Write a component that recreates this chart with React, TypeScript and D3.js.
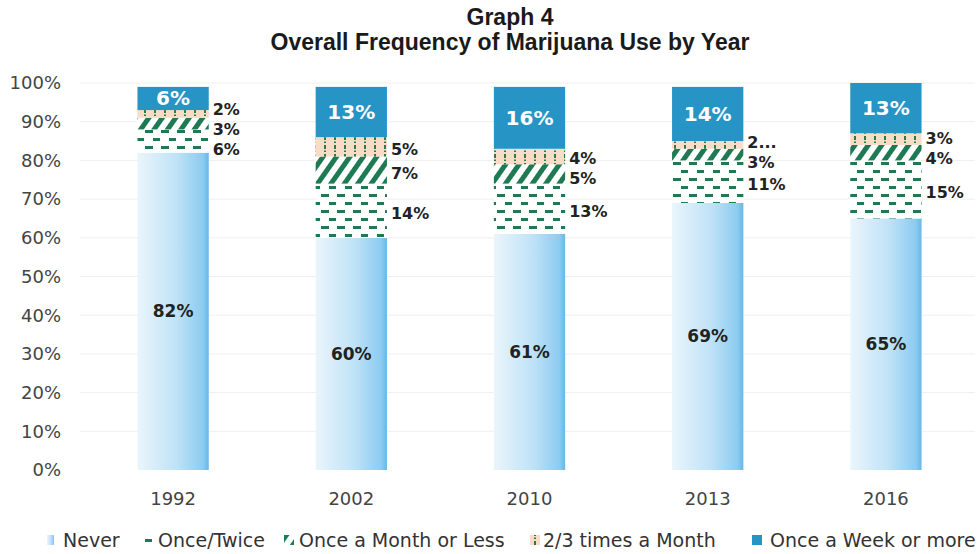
import React from 'react';
import * as d3 from 'd3';

const years = ['1992', '2002', '2010', '2013', '2016'];
const never = [82, 60, 61, 69, 65];
const onceTwice = [6, 14, 13, 11, 15];
const onceMonth = [3, 7, 5, 3, 4];
const twoThree = [2, 5, 4, 2, 3];
const weekly = [6, 13, 16, 14, 13];
const twoThreeLabels = ['2%', '5%', '4%', '2...', '3%'];
const seriesNames = ['Never', 'Once/Twice', 'Once a Month or Less', '2/3 times a Month', 'Once a Week or more'];
const yTicks = [0, 10, 20, 30, 40, 50, 60, 70, 80, 90, 100];

const W = 979;
const H = 554;
const keys = ['never', 'onceTwice', 'onceMonth', 'twoThree', 'weekly'];
const fills = ['url(#gNever)', 'url(#pOnceTwice)', 'url(#pMonth)', 'url(#pTwoThree)', '#2794c6'];
const GREEN = '#1e7a52';

const FONT = '"DejaVu Sans", Verdana, sans-serif';

export default function App() {
  const rows = years.map((y, i) => ({
    year: y,
    never: never[i],
    onceTwice: onceTwice[i],
    onceMonth: onceMonth[i],
    twoThree: twoThree[i],
    weekly: weekly[i],
  }));
  const stacked = d3.stack<any>().keys(keys)(rows);

  const x = d3.scaleBand<string>().domain(years).range([84, 975]).paddingInner(0.6).paddingOuter(0.3);
  const y = d3.scaleLinear().domain([0, 100]).range([470, 83]);
  const bw = x.bandwidth();

  // outside labels for middle series with simple collision relaxation
  const outside: { x: number; y: number; text: string }[] = [];
  years.forEach((yr, i) => {
    const items = [3, 2, 1].map((si) => {
      const d = stacked[si][i];
      const text = si === 3 ? twoThreeLabels[i] : `${rows[i][keys[si]]}%`;
      return { y: y((d[0] + d[1]) / 2), text };
    });
    for (let it = 0; it < 50; it++) {
      for (let k = 0; k < items.length - 1; k++) {
        const gap = items[k + 1].y - items[k].y;
        if (gap < 20) {
          const push = (20 - gap) / 2;
          items[k].y -= push;
          items[k + 1].y += push;
        }
      }
    }
    items.forEach((it) => outside.push({ x: (x(yr) as number) + bw + 4, y: it.y + 3, text: it.text }));
  });

  const legendSwatchX = [45, 143, 284, 530, 752];
  const legendTextX = [63, 158, 299, 543, 770];

  return (
    <svg width={W} height={H} style={{ position: 'fixed', left: 0, top: 0, background: '#fff' }}>
      <defs>
        <linearGradient id="gNever" x1="0" x2="1" y1="0" y2="0">
          <stop offset="0%" stopColor="#eaf5fc" />
          <stop offset="55%" stopColor="#bfe2f7" />
          <stop offset="92%" stopColor="#8ccbf0" />
          <stop offset="100%" stopColor="#66b7e7" />
        </linearGradient>
        <pattern id="pOnceTwice" patternUnits="userSpaceOnUse" width="16" height="16">
          <rect width="16" height="16" fill="#fff" />
          <rect x="1" y="2" width="8" height="3" fill={GREEN} />
          <rect x="9" y="10" width="8" height="3" fill={GREEN} />
        </pattern>
        <pattern id="pMonth" patternUnits="userSpaceOnUse" width="11" height="11" patternTransform="rotate(35)">
          <rect width="11" height="11" fill="#fff" />
          <rect x="0" y="0" width="5" height="11" fill={GREEN} />
        </pattern>
        <pattern id="pTwoThree" patternUnits="userSpaceOnUse" width="10" height="9">
          <rect width="10" height="9" fill="#f9dcc6" />
          <rect x="4" y="1" width="2" height="4" fill="#2a7a4a" />
          <rect x="4" y="6.5" width="2" height="1.5" fill="#2a7a4a" />
        </pattern>
      </defs>

      {/* title */}
      <text x={510} y={25} textAnchor="middle" fontFamily='"Liberation Sans", Arial, sans-serif' fontWeight="bold" fontSize={23} fill="#1a1a1a">Graph 4</text>
      <text x={510} y={50} textAnchor="middle" fontFamily='"Liberation Sans", Arial, sans-serif' fontWeight="bold" fontSize={23} fill="#1a1a1a">Overall Frequency of Marijuana Use by Year</text>

      {/* gridlines and y ticks */}
      {yTicks.map((t) => (
        <g key={t}>
          {t > 0 && <line x1={80} x2={975} y1={y(t)} y2={y(t)} stroke="#efefef" strokeWidth={1} />}
          <text x={61} y={y(t)} dy="0.35em" textAnchor="end" fontFamily={FONT} fontSize={18} fill="#444">{`${t}%`}</text>
        </g>
      ))}

      {/* bars */}
      {stacked.map((s, si) => (
        <g key={s.key} fill={fills[si]}>
          {s.map((d, i) => (
            <rect key={i} x={x(years[i])} y={y(d[1])} width={bw} height={y(d[0]) - y(d[1])} />
          ))}
        </g>
      ))}

      {/* inside labels */}
      {stacked[0].map((d, i) => (
        <text key={'n' + i} x={(x(years[i]) as number) + bw / 2} y={y((d[0] + d[1]) / 2)} dy="0.35em" textAnchor="middle" fontFamily={FONT} fontWeight="bold" fontSize={17} fill="#222">{`${never[i]}%`}</text>
      ))}
      {stacked[4].map((d, i) => (
        <text key={'w' + i} x={(x(years[i]) as number) + bw / 2} y={y((d[0] + d[1]) / 2)} dy="0.35em" textAnchor="middle" fontFamily={FONT} fontWeight="bold" fontSize={20} fill="#fff">{`${weekly[i]}%`}</text>
      ))}
      {outside.map((o, k) => (
        <text key={'o' + k} x={o.x} y={o.y} dy="0.35em" fontFamily={FONT} fontWeight="bold" fontSize={16} fill="#222">{o.text}</text>
      ))}

      {/* x labels */}
      {years.map((yr) => (
        <text key={yr} x={(x(yr) as number) + bw / 2} y={499} dy="0.35em" textAnchor="middle" fontFamily={FONT} fontSize={18} fill="#444">{yr}</text>
      ))}

      {/* legend */}
      {seriesNames.map((n, i) => (
        <g key={n}>
          {i === 1 ? (
            <g>
              <rect x={legendSwatchX[i]} y={535} width={10} height={10} fill="#fff" />
              <rect x={legendSwatchX[i] + 2} y={539} width={7} height={3} fill={GREEN} />
            </g>
          ) : (
            <rect x={legendSwatchX[i] + (i === 0 ? 2 : 0)} y={535} width={i === 0 ? 7 : 10} height={10} fill={fills[i]} />
          )}
          <text x={legendTextX[i]} y={540} dy="0.35em" fontFamily={FONT} fontSize={19} fill="#333">{n}</text>
        </g>
      ))}
    </svg>
  );
}
